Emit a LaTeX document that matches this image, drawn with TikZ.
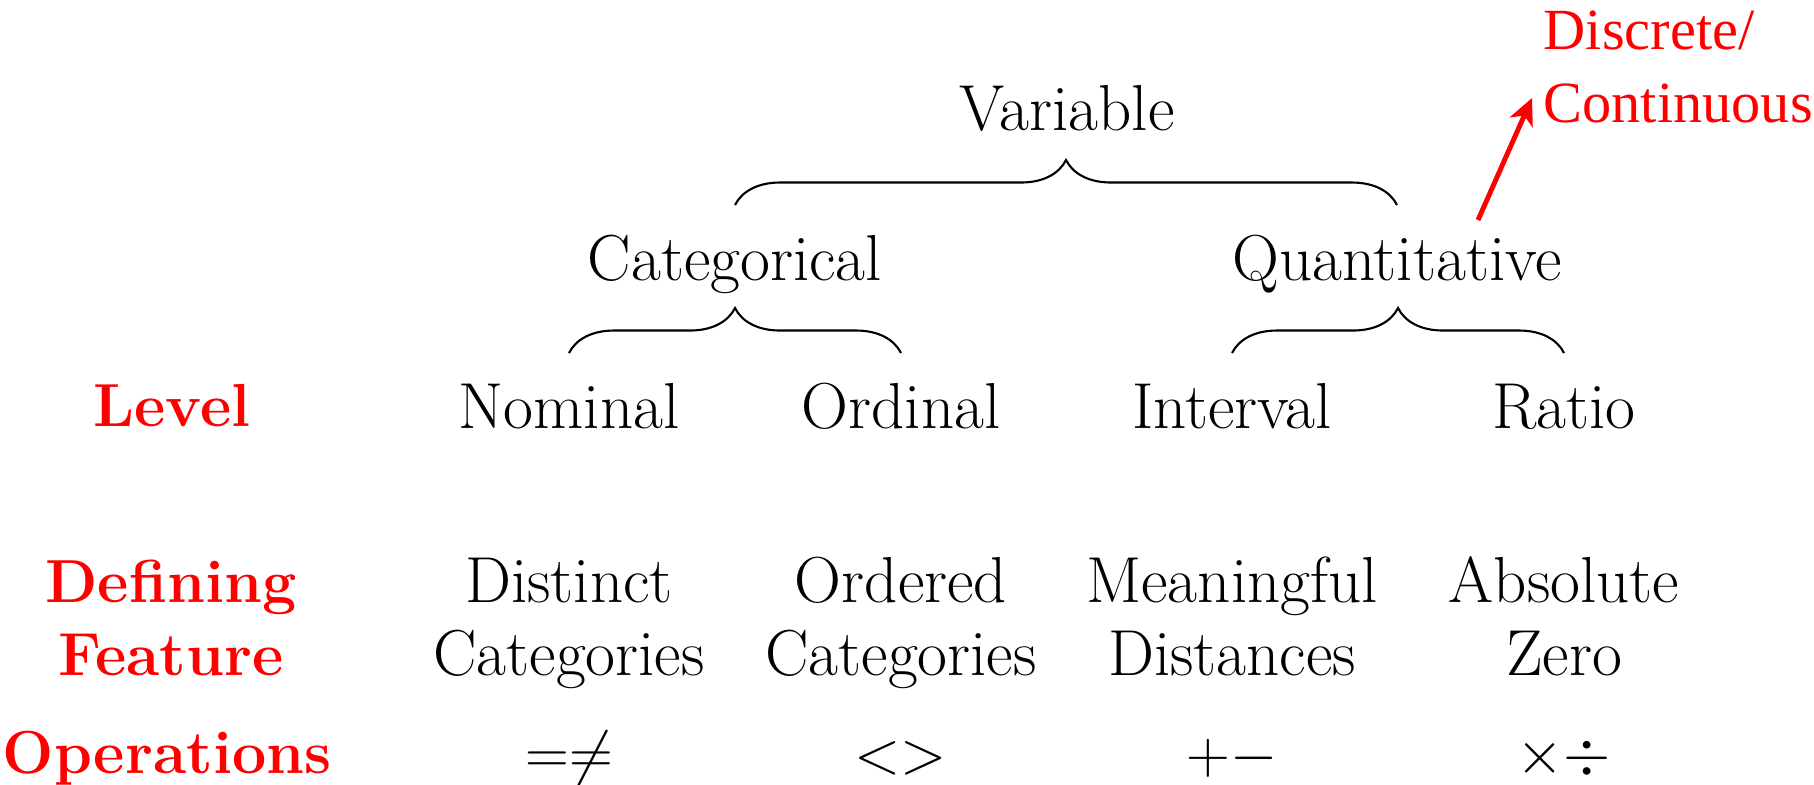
\documentclass[tikz,border=0pt]{standalone}
\usepackage{fontspec}
\newfontfamily\annotfont{Liberation Serif}
\usetikzlibrary{decorations.pathreplacing,arrows.meta}
\begin{document}
\begin{tikzpicture}[x=1cm,y=1cm,
  lbl/.style={anchor=base,inner sep=0pt,align=center,font=\fontsize{18.5}{20.5}\selectfont},
  rowlbl/.style={anchor=base,inner sep=0pt,align=center,text=red,font=\fontsize{17.3}{20.5}\selectfont\bfseries},
  brc/.style={decorate,decoration={brace,amplitude=0.45cm},line width=0.6pt},
  annot/.style={anchor=base west,inner sep=0pt,align=left,text=red,font=\annotfont\fontsize{16.6}{20.5}\selectfont},
  redarrow/.style={draw=red,line width=1.4pt,-{Stealth[length=7.5pt,width=7pt,inset=2pt]}}
  ]
\useasboundingbox (0,0) rectangle (18.14,-7.84);

% tree
\node[lbl] (var) at (10.67,-1.30) {Variable};
\node[lbl] (cat) at (7.35,-2.80) {Categorical};
\node[lbl] (quant) at (13.97,-2.80) {Quantitative};

\node[rowlbl] (level) at (1.72,-4.26) {Level};
\node[lbl] (nom) at (5.69,-4.28) {Nominal};
\node[lbl] (ord) at (9.01,-4.28) {Ordinal};
\node[lbl] (int) at (12.32,-4.28) {Interval};
\node[lbl] (rat) at (15.64,-4.28) {Ratio};

\node[rowlbl] (def) at (1.71,-6.75) {Defining\\Feature};
\node[lbl] (fnom) at (5.69,-6.75) {Distinct\\Categories};
\node[lbl] (ford) at (9.01,-6.75) {Ordered\\Categories};
\node[lbl] (fint) at (12.32,-6.75) {Meaningful\\Distances};
\node[lbl] (frat) at (15.64,-6.75) {Absolute\\Zero};

\node[rowlbl] (ops) at (1.67,-7.73) {Operations};
\node[lbl] (onom) at (5.69,-7.73) {$=\neq$};
\node[lbl] (oord) at (9.01,-7.73) {$<>$};
\node[lbl] (oint) at (12.32,-7.73) {$+-$};
\node[lbl] (orat) at (15.64,-7.73) {$\times\div$};

% braces
\coordinate (ytop) at (0,-2.05);
\coordinate (ymid) at (0,-3.53);
\draw[brc] (cat |- ytop) -- (quant |- ytop);
\draw[brc] (nom |- ymid) -- (ord |- ymid);
\draw[brc] (int |- ymid) -- (rat |- ymid);

% annotation
\node[annot] (disc) at (15.43,-1.22) {Discrete/\\Continuous};
\coordinate (arrtail) at (14.78,-2.20);
\coordinate (arrhead) at (15.32,-0.98);
\draw[redarrow] (arrtail) -- (arrhead);
\end{tikzpicture}
\end{document}
